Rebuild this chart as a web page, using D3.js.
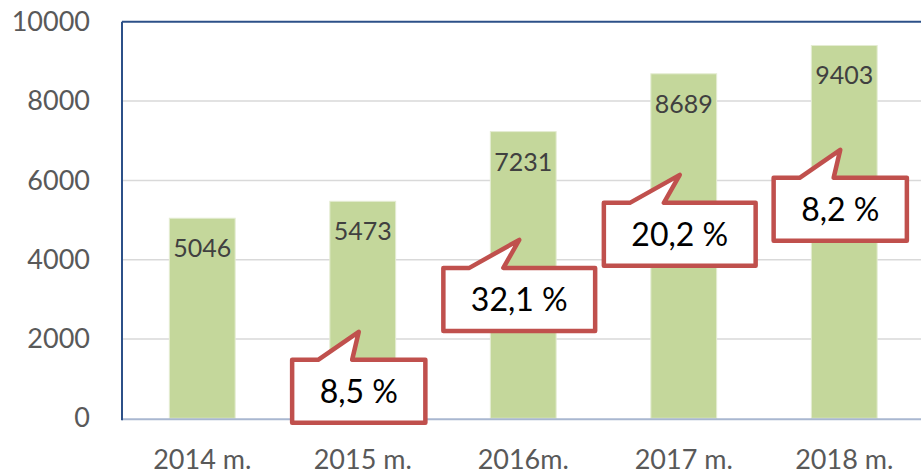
<!DOCTYPE html>
<html>
<head>
<meta charset="utf-8">
<script src="https://cdn.jsdelivr.net/npm/d3@7"></script>
<style>
  body { margin: 0; background: #fff; }
  svg { display: block; font-family: Lato, "Open Sans", sans-serif; }
</style>
</head>
<body>
<svg id="chart"></svg>
<script>
var years = ["2014 m.", "2015 m.", "2016m.", "2017 m.", "2018 m."];
var values = [5046, 5473, 7231, 8689, 9403];
var yTicks = [0, 2000, 4000, 6000, 8000, 10000];
// growth callouts, from 2015 on; anchor = level of the pointer tip
var growthYears = ["2015 m.", "2016m.", "2017 m.", "2018 m."];
var growthLabels = ["8,5 %", "32,1 %", "20,2 %", "8,2 %"];
var growthAnchor = [2180, 4500, 6140, 6770];

var W = 921, H = 474;
var plotLeft = 122, plotRight = 924.5, plotTop = 21.8, plotBottom = 418.3;

var svg = d3.select("#chart").attr("width", W).attr("height", H);

var x = d3.scaleBand().domain(years).range([plotLeft, plotRight]).paddingInner(0.59).paddingOuter(0.295);
var y = d3.scaleLinear().domain([0, 10000]).range([plotBottom, plotTop]);

// gridlines
svg.append("g")
  .selectAll("line")
  .data(yTicks.filter(function (d) { return d > 0 && d < 10000; }))
  .join("line")
  .attr("x1", plotLeft).attr("x2", W)
  .attr("y1", function (d) { return y(d); })
  .attr("y2", function (d) { return y(d); })
  .attr("stroke", "#d9d9d9").attr("stroke-width", 1.5);

// y axis labels
var yAxis = d3.axisLeft(y).tickValues(yTicks).tickSize(0).tickPadding(32).tickFormat(d3.format("d"));
var gy = svg.append("g").attr("transform", "translate(" + plotLeft + ",0)").call(yAxis);
gy.select(".domain").remove();
gy.selectAll("text").attr("font-size", 27).attr("fill", "#595959").attr("font-family", "Lato, sans-serif");

// bars
svg.append("g")
  .selectAll("rect")
  .data(values)
  .join("rect")
  .attr("x", function (d, i) { return x(years[i]); })
  .attr("y", function (d) { return y(d); })
  .attr("width", x.bandwidth())
  .attr("height", function (d) { return y(0) - y(d); })
  .attr("fill", "#c4d79b")
  .attr("stroke", "#e4ecd2").attr("stroke-width", 1);

// value labels
svg.append("g")
  .selectAll("text")
  .data(values)
  .join("text")
  .attr("x", function (d, i) { return x(years[i]) + x.bandwidth() / 2; })
  .attr("y", function (d) { return y(d) + 39; })
  .attr("text-anchor", "middle")
  .attr("font-size", 25)
  .attr("fill", "#404040")
  .text(function (d) { return d; });

// x axis
var xAxis = d3.axisBottom(x).tickSize(0).tickPadding(32);
var gx = svg.append("g").attr("transform", "translate(0," + plotBottom + ")").call(xAxis);
gx.select(".domain").remove();
gx.selectAll("text").attr("font-size", 27).attr("fill", "#595959").attr("font-family", "Lato, sans-serif");

// frame: zero line, left and top border
svg.append("line").attr("x1", plotLeft).attr("x2", W).attr("y1", plotBottom + 1).attr("y2", plotBottom + 1)
  .attr("stroke", "#a9b7d0").attr("stroke-width", 2);
svg.append("line").attr("x1", plotLeft).attr("x2", W).attr("y1", plotTop).attr("y2", plotTop)
  .attr("stroke", "#2c5088").attr("stroke-width", 2);
svg.append("line").attr("x1", plotLeft).attr("x2", plotLeft).attr("y1", plotTop).attr("y2", plotBottom + 2)
  .attr("stroke", "#2c5088").attr("stroke-width", 2);

// callouts
var boxH = 63, tipH = 28;
var callouts = svg.append("g").selectAll("g")
  .data(growthLabels)
  .join("g");

callouts.each(function (label, i) {
  var g = d3.select(this);
  var cx = x(growthYears[i]) + x.bandwidth() / 2 - 4;
  var tipY = y(growthAnchor[i]);
  var y0 = tipY + tipH, y1 = y0 + boxH;
  var txt = g.append("text")
    .attr("x", cx).attr("y", y0 + boxH / 2 + 12)
    .attr("text-anchor", "middle")
    .attr("font-size", 32)
    .attr("fill", "#000")
    .text(label);
  var w = txt.node().getComputedTextLength() + 55;
  var x0 = cx - w / 2, x1 = cx + w / 2;
  g.insert("path", "text")
    .attr("d", "M" + [x0, y0] + "L" + [x0 + 26, y0] + "L" + [cx, tipY] + "L" + [x0 + 60, y0] +
      "L" + [x1, y0] + "L" + [x1, y1] + "L" + [x0, y1] + "Z")
    .attr("fill", "#fff")
    .attr("stroke", "#c0504d")
    .attr("stroke-width", 4.5)
    .attr("stroke-linejoin", "round");
});
</script>
</body>
</html>
